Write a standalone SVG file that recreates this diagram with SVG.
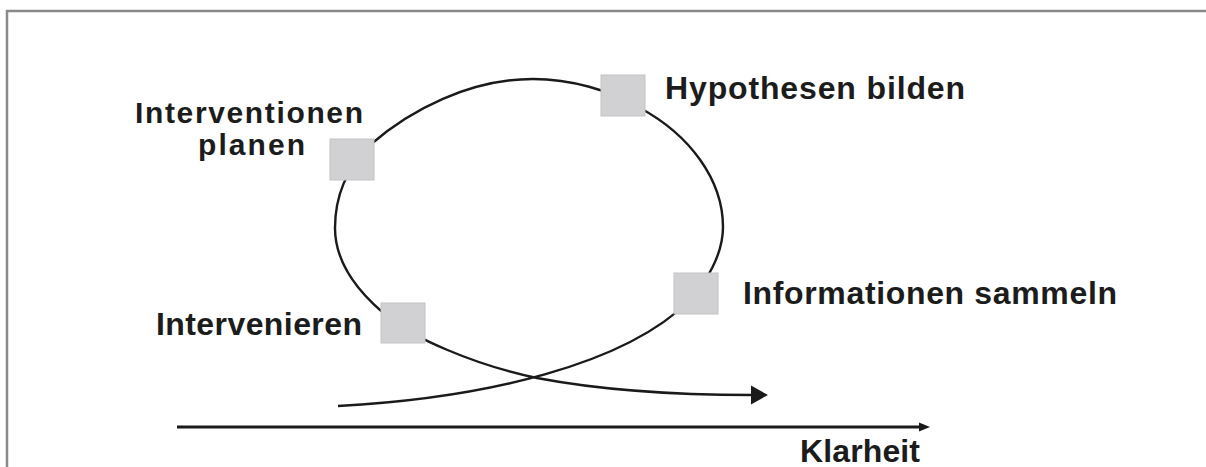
<svg xmlns="http://www.w3.org/2000/svg" width="1206" height="467" viewBox="0 0 1206 467">
  <style>
    .lbl { font-family: "Liberation Sans", Arial, sans-serif; font-weight: bold; font-size: 32px; fill: #1c1c1c; }
    .lbl2 { font-size: 30px; }
    .box { fill: #d1d1d4; stroke: #c3c3c6; stroke-width: 1; }
    .curve { fill: none; stroke: #1a1a1a; stroke-width: 2.4; }
    .axis { fill: none; stroke: #1a1a1a; stroke-width: 3; }
    .frame { fill: none; stroke: #8a8a8a; stroke-width: 2.5; }
  </style>
  <defs>
    <marker id="bigArrow" markerUnits="userSpaceOnUse" markerWidth="18" markerHeight="20" refX="1" refY="10" orient="auto">
      <polygon points="0,0.5 17,10 0,19.5" fill="#1a1a1a"/>
    </marker>
    <marker id="smallArrow" markerUnits="userSpaceOnUse" markerWidth="12" markerHeight="10" refX="1" refY="5" orient="auto">
      <polygon points="0,0.5 11,5 0,9.5" fill="#1a1a1a"/>
    </marker>
  </defs>

  <path class="frame" d="M1206,11 H7 V467"/>

  <g id="connectors">
    <path id="loop" class="curve" marker-end="url(#bigArrow)"
      d="M338,406 C485,398 625,365 690,300
         C706,282 723,255 723,227
         C723,180 690,135 640,108
         C610,90 570,79 533,79
         C470,79 410,110 370,145
         C345,170 335,200 335,228
         C335,265 360,295 392,320
         C412,336 470,364 537,378
         C600,390 680,395 752,395"/>
    <path id="axis" class="axis" marker-end="url(#smallArrow)" d="M177,427 H920"/>
  </g>

  <g id="node-hypothesen">
    <rect class="box" x="601" y="75" width="44" height="41"/>
    <text class="lbl" x="665" y="99" textLength="300" lengthAdjust="spacing">Hypothesen bilden</text>
  </g>
  <g id="node-planen">
    <rect class="box" x="330" y="139" width="44" height="41"/>
    <text class="lbl lbl2" x="135" y="123" textLength="228" lengthAdjust="spacing">Interventionen</text>
    <text class="lbl lbl2" x="198" y="155" textLength="107" lengthAdjust="spacing">planen</text>
  </g>
  <g id="node-informationen">
    <rect class="box" x="674" y="273" width="44" height="41"/>
    <text class="lbl" x="743" y="304" textLength="374" lengthAdjust="spacing">Informationen sammeln</text>
  </g>
  <g id="node-intervenieren">
    <rect class="box" x="381" y="303" width="44" height="40"/>
    <text class="lbl" x="156" y="335" textLength="206" lengthAdjust="spacing">Intervenieren</text>
  </g>
  <g id="label-klarheit">
    <text class="lbl" x="800" y="462" textLength="120" lengthAdjust="spacing">Klarheit</text>
  </g>
</svg>
